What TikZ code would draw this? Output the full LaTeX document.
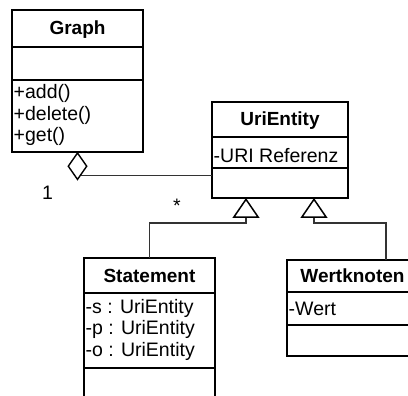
\documentclass[tikz,border=0pt]{standalone}
\usepackage{fontspec}
\setmainfont{Liberation Sans}
\usetikzlibrary{arrows.meta, shapes.geometric, calc, positioning}

\tikzset{
  classbox/.style={draw, line width=1.4pt, fill=white, inner sep=0pt, outer sep=0pt, anchor=north west},
  sepline/.style={line width=1.4pt},
  titletext/.style={font=\bfseries\fontsize{19}{21.5}\selectfont, anchor=base, inner sep=0pt},
  membertext/.style={font=\fontsize{19.5}{21.5}\selectfont, anchor=base west, inner sep=0pt},
  link/.style={draw=black!80, line width=1.2pt},
  gen/.style={link, -{Triangle[open, length=20pt, width=27pt, line width=1.5pt, color=black]}},
}

\begin{document}
\begin{tikzpicture}[x=1pt, y=-1pt]
\useasboundingbox (0,0) rectangle (408,396);
\clip (0,0) rectangle (408,396);

% Klasse Graph
\node[classbox, minimum width=131, minimum height=142] (graph) at (12,10) {};
\draw[sepline] ($(graph.north west)+(0,37)$) -- ($(graph.north east)+(0,37)$);
\draw[sepline] ($(graph.north west)+(0,70)$) -- ($(graph.north east)+(0,70)$);
\node[titletext] (graphTitle) at ($(graph.north)+(0,25)$) {Graph};
\foreach \txt [count=\i] in {+add(), +delete(), +get()}
  \node[membertext] (graphOp\i) at ($(graph.north west)+(1.5,67.5+21.5*\i)$) {\txt};

% Klasse UriEntity
\node[classbox, minimum width=136, minimum height=96] (uri) at (212,102) {};
\draw[sepline] ($(uri.north west)+(0,35)$) -- ($(uri.north east)+(0,35)$);
\draw[sepline] ($(uri.north west)+(0,66)$) -- ($(uri.north east)+(0,66)$);
\node[titletext] (uriTitle) at ($(uri.north)+(0,24)$) {UriEntity};
\node[membertext] (uriAttr) at ($(uri.north west)+(1.5,61)$) {-URI Referenz};

% Klasse Statement
\node[classbox, minimum width=131, minimum height=160] (stmt) at (84,258) {};
\draw[sepline] ($(stmt.north west)+(0,35)$) -- ($(stmt.north east)+(0,35)$);
\draw[sepline] ($(stmt.north west)+(0,110)$) -- ($(stmt.north east)+(0,110)$);
\node[titletext] (stmtTitle) at ($(stmt.north)+(0,25)$) {Statement};
\foreach \txt [count=\i] in {-s : UriEntity, -p : UriEntity, -o : UriEntity}
  \node[membertext] (stmtAttr\i) at ($(stmt.north west)+(1.5,33.5+21.5*\i)$) {\txt};

% Klasse Wertknoten
\node[classbox, minimum width=131, minimum height=96] (wert) at (287,260) {};
\draw[sepline] ($(wert.north west)+(0,32)$) -- ($(wert.north east)+(0,32)$);
\draw[sepline] ($(wert.north west)+(0,65)$) -- ($(wert.north east)+(0,65)$);
\node[titletext] (wertTitle) at ($(wert.north)+(0,23)$) {Wertknoten};
\node[membertext] (wertAttr) at ($(wert.north west)+(1.5,56)$) {-Wert};

% Aggregation Graph -- UriEntity
\node[draw, shape=diamond, line width=1.4pt, fill=white, inner sep=0pt, minimum width=19, minimum height=27, anchor=north] (agg) at (graph.south) {};
\coordinate (aggEnd) at ($(agg.south)!0.36!(agg.east)$);
\draw[link] (aggEnd) -- (aggEnd -| uri.west);
\node[membertext, anchor=base] (multOne) at ($(agg.south)+(-30,19)$) {1};
\node[membertext, anchor=base] (multMany) at ($(uri.south west)+(-35,15)$) {*};

% Vererbung
\coordinate (uriL) at ($(uri.south west)!0.25!(uri.south east)$);
\coordinate (uriR) at ($(uri.south west)!0.75!(uri.south east)$);
\coordinate (wertTop) at ($(wert.north west)!0.756!(wert.north east)$);
\draw[gen] (stmt.north) |- ($(uriL)+(0,25)$) -- (uriL);
\draw[gen] (wertTop) |- ($(uriR)+(0,25)$) -- (uriR);
\end{tikzpicture}
\end{document}
